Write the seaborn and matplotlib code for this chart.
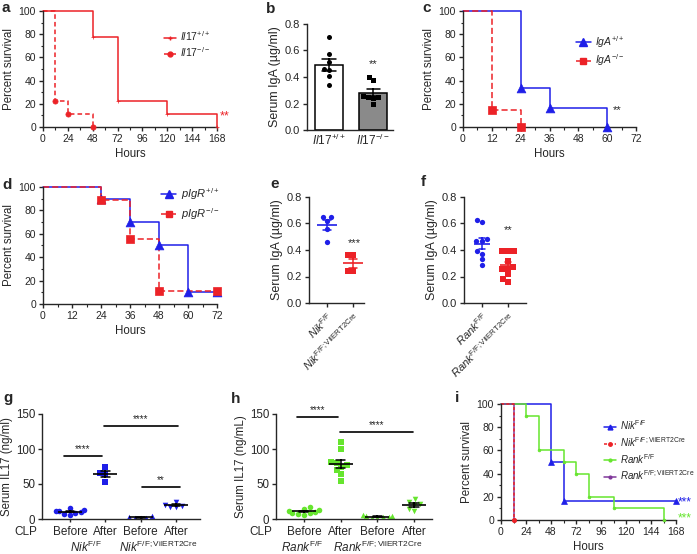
import numpy as np
import pandas as pd
import matplotlib
matplotlib.use("Agg")
import matplotlib.pyplot as plt
import seaborn as sns
from matplotlib.lines import Line2D
from matplotlib.ticker import MultipleLocator, FormatStrFormatter

# ---------------- data ----------------
# a: Il17 survival after CLP (hours, percent)
il17_wt_hours = [0, 48, 72, 120, 168]
il17_wt_surv = [100, 77.8, 22.2, 11.1, 0]
il17_ko_hours = [0, 12, 24, 48]
il17_ko_surv = [100, 22.2, 11.1, 0]

# b: serum IgA (ug/ml)
il17_wt_iga = [0.70, 0.57, 0.51, 0.46, 0.45, 0.41, 0.34]
il17_ko_iga = [0.40, 0.38, 0.26, 0.25, 0.25, 0.24, 0.20]

# c: IgA survival
iga_wt_hours = [0, 24, 36, 60]
iga_wt_surv = [100, 33.3, 16.7, 0]
iga_ko_hours = [0, 12, 24]
iga_ko_surv = [100, 14.3, 0]

# d: pIgR survival
pigr_wt_hours = [0, 24, 36, 48, 60, 72]
pigr_wt_surv = [100, 90, 70, 50, 10, 10]
pigr_ko_hours = [0, 24, 36, 48, 72]
pigr_ko_surv = [100, 88.9, 55.6, 11.1, 11.1]

# e: serum IgA, Nik
nik_wt_iga = [0.65, 0.65, 0.62, 0.56, 0.46]
nik_ko_iga = [0.36, 0.36, 0.24, 0.24]

# f: serum IgA, Rank
rank_wt_iga = [0.63, 0.61, 0.48, 0.47, 0.47, 0.39, 0.37, 0.33, 0.29]
rank_ko_iga = [0.39, 0.39, 0.39, 0.32, 0.27, 0.26, 0.26, 0.22, 0.18, 0.16]

# g: serum IL17 (ng/ml) before / after CLP, Nik
g_nik_before = [16, 13, 12, 11, 10, 9, 7, 6]
g_nik_after = [74, 66, 64, 53]
g_cre_before = [4, 3, 2, 1, 1]
g_cre_after = [25, 20, 19, 17, 17]

# h: serum IL17 (ng/mL) before / after CLP, Rank
h_rank_before = [17, 15, 13, 12, 10, 9, 8, 7, 6]
h_rank_after = [110, 100, 82, 80, 77, 75, 70, 64, 55]
h_cre_before = [6, 5, 4, 3, 3, 2, 1]
h_cre_after = [28, 25, 21, 20, 15, 11]

# i: survival, Nik / Rank
i_nik_wt_hours = [0, 48, 60, 168]
i_nik_wt_surv = [100, 50, 16.7, 16.7]
i_nik_ko_hours = [0, 12]
i_nik_ko_surv = [100, 0]
i_rank_wt_hours = [0, 24, 36, 60, 72, 84, 108, 156]
i_rank_wt_surv = [100, 90, 60, 50, 40, 20, 10, 0]
i_rank_ko_hours = [0, 12]
i_rank_ko_surv = [100, 0]

clp_ticks = ["Before", "After", "Before", "After"]
# significance bars: (x from, x to, height, stars)
g_sig = [(-0.17, 0.91, 90, "****"), (0.96, 3.06, 133, "****"), (2.04, 3.12, 46, "**")]
h_sig = [(-0.19, 0.93, 146, "****"), (0.98, 2.97, 124, "****")]

# ---------------- style ----------------
sns.set_style("ticks")
plt.rcParams["font.family"] = ["Liberation Sans", "DejaVu Sans"]
plt.rcParams["mathtext.fontset"] = "custom"
plt.rcParams["mathtext.rm"] = "Liberation Sans"
plt.rcParams["mathtext.it"] = "Liberation Sans:italic"
plt.rcParams["mathtext.bf"] = "Liberation Sans:bold"
plt.rcParams["axes.linewidth"] = 1.0
plt.rcParams["xtick.major.width"] = 1.0
plt.rcParams["ytick.major.width"] = 1.0
plt.rcParams["xtick.minor.width"] = 0.8
plt.rcParams["ytick.minor.width"] = 0.8
plt.rcParams["xtick.major.size"] = 3
plt.rcParams["ytick.major.size"] = 3
plt.rcParams["xtick.minor.size"] = 1.8
plt.rcParams["ytick.minor.size"] = 1.8
plt.rcParams["xtick.major.pad"] = 2
plt.rcParams["ytick.major.pad"] = 2

RED = "#ec2227"
BLUE = "#1f1fe8"
GREEN = "#66e52e"
PURPLE = "#80389a"

W, H = 697, 554
fig = plt.figure(figsize=(W / 100, H / 100), dpi=100)


def add_ax(l, t, r, b):
    ax = fig.add_axes([l / W, 1 - b / H, (r - l) / W, (b - t) / H])
    sns.despine(ax=ax)
    return ax


def km(ax, hours, surv, color, ls, marker, ms):
    sns.lineplot(x=hours, y=surv, ax=ax, color=color, linestyle=ls,
                 drawstyle="steps-post", estimator=None, sort=False,
                 linewidth=1.1, clip_on=False)
    sns.scatterplot(x=hours[1:], y=surv[1:], ax=ax, color=color, marker=marker,
                    s=ms, edgecolor=color, linewidth=0.5, clip_on=False, zorder=4)


def style_surv(ax, xmax, xmaj, xmin, fs=7.5, lfs=8.3):
    ax.set_xlim(0, xmax)
    ax.set_ylim(0, 100)
    ax.xaxis.set_major_locator(MultipleLocator(xmaj))
    ax.xaxis.set_minor_locator(MultipleLocator(xmin))
    ax.yaxis.set_major_locator(MultipleLocator(20))
    ax.yaxis.set_minor_locator(MultipleLocator(10))
    ax.tick_params(labelsize=fs)
    ax.set_xlabel("Hours", fontsize=lfs, labelpad=3)
    ax.set_ylabel("Percent survival", fontsize=lfs, labelpad=3)


def handle(color, ls, marker, ms):
    return Line2D([], [], color=color, linestyle=ls, marker=marker,
                  markersize=ms, linewidth=1.1)


def dot_panel(ax, groups, order, colors, markers, size, mean_color, mean_ms, capsize):
    df = pd.DataFrame({"grp": np.concatenate([[k] * len(v) for k, v in zip(order, groups)]),
                       "val": np.concatenate(groups)})
    for k, c, m in zip(order, colors, markers):
        sns.swarmplot(data=df[df["grp"] == k], x="grp", y="val", order=order,
                      color=c, marker=m, size=size, ax=ax, zorder=2)
    if mean_color is None:
        sns.pointplot(data=df, x="grp", y="val", order=order, hue="grp",
                      hue_order=order, palette=colors, legend=False,
                      errorbar="se", capsize=capsize, linestyle="none",
                      marker="_", markersize=mean_ms, markeredgewidth=1.2,
                      err_kws={"linewidth": 1.1}, ax=ax)
    else:
        sns.pointplot(data=df, x="grp", y="val", order=order, color=mean_color,
                      errorbar="se", capsize=capsize, linestyle="none",
                      marker="_", markersize=mean_ms, markeredgewidth=1.2,
                      err_kws={"linewidth": 1.1}, ax=ax)
    return df


def iga_axis(ax, label):
    ax.set_ylim(0, 0.8)
    ax.yaxis.set_major_locator(MultipleLocator(0.2))
    ax.yaxis.set_major_formatter(FormatStrFormatter("%.1f"))
    ax.tick_params(labelsize=8)
    ax.set_xlabel("")
    ax.set_ylabel(label, fontsize=9, labelpad=3)


def clp_axis(ax, label):
    ax.set_ylim(0, 150)
    ax.yaxis.set_major_locator(MultipleLocator(50))
    ax.set_xticks(range(4), clp_ticks)
    ax.tick_params(labelsize=8.5)
    ax.tick_params(axis="y", labelsize=8.3)
    ax.tick_params(axis="x", length=2, pad=3)
    ax.set_xlabel("")
    ax.set_ylabel(label, fontsize=8.3, labelpad=2)
    ax.annotate("CLP", xy=(-0.1, -0.125), xycoords="axes fraction", ha="center",
                va="center", fontsize=8.5)


def letter(x, y, s):
    fig.text(x / W, 1 - y / H, s, fontsize=11, fontweight="bold", va="baseline")


# ---------------- a ----------------
ax = add_ax(43, 11, 217, 127)
km(ax, il17_wt_hours, il17_wt_surv, RED, "-", "+", 8)
km(ax, il17_ko_hours, il17_ko_surv, RED, (0, (3, 2)), "o", 14)
style_surv(ax, 168, 24, 12)
ax.legend([handle(RED, "-", "+", 3), handle(RED, (0, (3, 2)), "o", 3.5)],
          [r"$\it{Il17}^{+/+}$", r"$\it{Il17}^{-/-}$"], loc="upper left",
          bbox_to_anchor=(0.64, 0.92), frameon=False, fontsize=7.5,
          handlelength=1.2, handletextpad=0.4, labelspacing=0.2)
ax.text(171, 9, "**", color=RED, fontsize=9, va="center", clip_on=False)
letter(2, 12, "a")

# ---------------- b ----------------
ax = add_ax(307, 24, 393, 130)
b_order = [r"$\it{Il17}^{+/+}$", r"$\it{Il17}^{-/-}$"]
b_df = pd.DataFrame({"grp": [b_order[0]] * len(il17_wt_iga) + [b_order[1]] * len(il17_ko_iga),
                     "val": il17_wt_iga + il17_ko_iga})
sns.barplot(data=b_df, x="grp", y="val", order=b_order, hue="grp", hue_order=b_order,
            palette=["white", "#8a8a8a"], legend=False, errorbar="se", capsize=0.3,
            err_kws={"color": "black", "linewidth": 1.1}, edgecolor="black",
            linewidth=1.1, width=0.64, ax=ax)
for k, m in zip(b_order, ["o", "s"]):
    sns.swarmplot(data=b_df[b_df["grp"] == k], x="grp", y="val", order=b_order,
                  color="black", marker=m, size=3.6, ax=ax)
ax.set_xlim(-0.5, 1.45)
iga_axis(ax, "Serum IgA (\u00b5g/ml)")
ax.tick_params(axis="x", length=0, labelsize=8.5)
ax.text(1, 0.5, "**", fontsize=8, ha="center", va="center")
letter(266, 13, "b")

# ---------------- c ----------------
ax = add_ax(463, 11, 636, 127)
km(ax, iga_wt_hours, iga_wt_surv, BLUE, "-", "^", 40)
km(ax, iga_ko_hours, iga_ko_surv, RED, (0, (4, 2)), "s", 30)
style_surv(ax, 72, 12, 6)
ax.legend([handle(BLUE, "-", "^", 6), handle(RED, (0, (4, 2)), "s", 5)],
          [r"$\it{IgA}^{+/+}$", r"$\it{IgA}^{-/-}$"], loc="upper left",
          bbox_to_anchor=(0.6, 0.88), frameon=False, fontsize=7.5,
          handlelength=1.4, handletextpad=0.4, labelspacing=0.25)
ax.text(62.5, 15, "**", fontsize=8, va="center", clip_on=False)
letter(422, 12, "c")

# ---------------- d ----------------
ax = add_ax(43, 187, 217, 304)
km(ax, pigr_wt_hours, pigr_wt_surv, BLUE, "-", "^", 40)
km(ax, pigr_ko_hours, pigr_ko_surv, RED, (0, (4, 2)), "s", 30)
style_surv(ax, 72, 12, 6)
ax.legend([handle(BLUE, "-", "^", 6), handle(RED, (0, (4, 2)), "s", 5)],
          [r"$\it{pIgR}^{+/+}$", r"$\it{pIgR}^{-/-}$"], loc="upper left",
          bbox_to_anchor=(0.62, 1.09), frameon=False, fontsize=8,
          handlelength=1.4, handletextpad=0.4, labelspacing=0.35)
letter(2, 189, "d")

# ---------------- e ----------------
ax = add_ax(309, 197, 364, 303)
e_order = [r"$\it{Nik}^{\rm F/F}$", r"$\it{Nik}^{\rm F/F;VilERT2Cre}$"]
dot_panel(ax, [nik_wt_iga, nik_ko_iga], e_order, [BLUE, RED], ["o", "s"], 3.8,
          None, 14, 0.3)
ax.set_xlim(-0.69, 1.42)
iga_axis(ax, "Serum IgA (\u00b5g/ml)")
plt.setp(ax.get_xticklabels(), rotation=45, ha="right", rotation_mode="anchor",
         fontsize=8)
ax.text(1.05, 0.45, "***", fontsize=8, ha="center", va="center")
letter(270, 188, "e")

# ---------------- f ----------------
ax = add_ax(464, 197, 526, 303)
f_order = [r"$\it{Rank}^{\rm F/F}$", r"$\it{Rank}^{\rm F/F;VilERT2Cre}$"]
dot_panel(ax, [rank_wt_iga, rank_ko_iga], f_order, [BLUE, RED], ["o", "s"], 3.8,
          None, 11, 0.25)
ax.set_xlim(-0.69, 1.69)
iga_axis(ax, "Serum IgA (\u00b5g/ml)")
plt.setp(ax.get_xticklabels(), rotation=45, ha="right", rotation_mode="anchor",
         fontsize=8)
ax.text(1.0, 0.55, "**", fontsize=8, ha="center", va="center")
letter(421, 186, "f")

# ---------------- g ----------------
ax = add_ax(42, 414, 200, 519)
g_order = ["nb", "na", "cb", "ca"]
dot_panel(ax, [g_nik_before, g_nik_after, g_cre_before, g_cre_after], g_order,
          [BLUE] * 4, ["o", "s", "^", "v"], 4, "black", 17, 0.25)
ax.set_xlim(-0.79, 3.68)
clp_axis(ax, "Serum IL17 (ng/ml)")
for x0, x1, yv, s in g_sig:
    ax.plot([x0, x1], [yv, yv], color="black", lw=1.2, clip_on=False)
    ax.text((x0 + x1) / 2, yv + 3, s, ha="center", va="bottom", fontsize=7)
ax.annotate(r"$\it{Nik}^{\rm F/F}$", xy=(0.45, -0.275), xycoords=("data", "axes fraction"),
            ha="center", va="center", fontsize=8.5)
ax.annotate(r"$\it{Nik}^{\rm F/F;VilERT2Cre}$", xy=(2.5, -0.275),
            xycoords=("data", "axes fraction"), ha="center", va="center", fontsize=8.5)
letter(3, 402, "g")

# ---------------- h ----------------
ax = add_ax(276, 414, 432, 519)
h_order = ["rb", "ra", "cb", "ca"]
dot_panel(ax, [h_rank_before, h_rank_after, h_cre_before, h_cre_after], h_order,
          [GREEN] * 4, ["o", "s", "^", "v"], 4, "black", 17, 0.25)
ax.set_xlim(-0.76, 3.49)
clp_axis(ax, "Serum IL17 (ng/mL)")
for x0, x1, yv, s in h_sig:
    ax.plot([x0, x1], [yv, yv], color="black", lw=1.2, clip_on=False)
    ax.text((x0 + x1) / 2, yv + 3, s, ha="center", va="bottom", fontsize=7)
ax.annotate(r"$\it{Rank}^{\rm F/F}$", xy=(-0.05, -0.275), xycoords=("data", "axes fraction"),
            ha="center", va="center", fontsize=8.5)
ax.annotate(r"$\it{Rank}^{\rm F/F;VilERT2Cre}$", xy=(2.0, -0.275),
            xycoords=("data", "axes fraction"), ha="center", va="center", fontsize=8.5)
letter(231, 403, "h")

# ---------------- i ----------------
ax = add_ax(501, 404, 676, 520)
km(ax, i_nik_wt_hours, i_nik_wt_surv, BLUE, "-", "^", 18)
km(ax, i_rank_wt_hours, i_rank_wt_surv, GREEN, "-", "o", 4)
km(ax, i_rank_ko_hours, i_rank_ko_surv, PURPLE, "-", "o", 4)
km(ax, i_nik_ko_hours, i_nik_ko_surv, RED, (0, (2, 1.5)), "o", 10)
style_surv(ax, 168, 24, 12, fs=7.5, lfs=8.3)
ax.legend([handle(BLUE, "-", "^", 3.5), handle(RED, (0, (2, 1.5)), "o", 2.5),
           handle(GREEN, "-", "o", 2), handle(PURPLE, "-", "o", 2)],
          [r"$\it{Nik}^{\rm F/F}$", r"$\it{Nik}^{\rm F/F;VilERT2Cre}$",
           r"$\it{Rank}^{\rm F/F}$", r"$\it{Rank}^{\rm F/F;VilERT2Cre}$"],
          loc="upper left", bbox_to_anchor=(0.54, 0.95), frameon=False, fontsize=7,
          handlelength=1.2, handletextpad=0.4, labelspacing=0.3)
ax.text(170, 15, "***", color=BLUE, fontsize=8.5, va="center", clip_on=False)
ax.text(170, 1, "***", color=GREEN, fontsize=8.5, va="center", clip_on=False)
letter(455, 402, "i")

fig.savefig("out.png", dpi=100)
